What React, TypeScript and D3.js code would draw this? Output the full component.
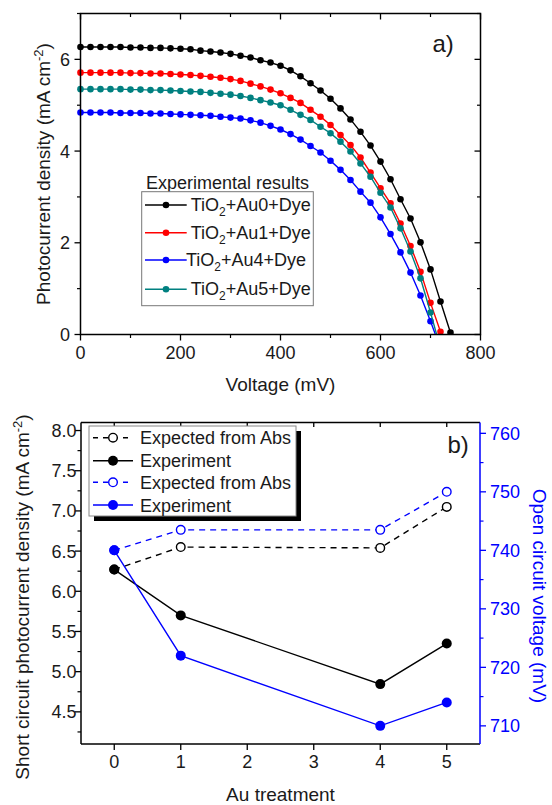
import React from 'react';
import * as d3 from 'd3';

// ---------- Panel a) data ----------
const voltageMV = [0, 20, 40, 60, 80, 100, 120, 140, 160, 180, 200, 220, 240, 260, 280, 300, 320, 340, 360, 380, 400, 420, 440, 460, 480, 500, 520, 540, 560, 580, 600, 620, 640, 660, 680, 700, 720, 740];

const jAu0 = [6.27, 6.27, 6.27, 6.27, 6.27, 6.26, 6.26, 6.25, 6.25, 6.24, 6.23, 6.22, 6.19, 6.17, 6.15, 6.12, 6.08, 6.04, 5.98, 5.93, 5.86, 5.76, 5.63, 5.48, 5.32, 5.14, 4.93, 4.69, 4.42, 4.12, 3.77, 3.385, 2.95, 2.53, 2.01, 1.42, 0.72, 0.04];
const jAu1 = [5.71, 5.71, 5.71, 5.71, 5.71, 5.70, 5.70, 5.69, 5.69, 5.68, 5.67, 5.66, 5.64, 5.62, 5.60, 5.57, 5.53, 5.47, 5.41, 5.34, 5.26, 5.16, 5.05, 4.90, 4.75, 4.57, 4.35, 4.13, 3.86, 3.53, 3.19, 2.86, 2.42, 1.93, 1.37, 0.69, 0.06];
const jAu4 = [4.84, 4.84, 4.84, 4.84, 4.83, 4.83, 4.83, 4.82, 4.82, 4.81, 4.80, 4.79, 4.78, 4.77, 4.75, 4.73, 4.71, 4.67, 4.62, 4.55, 4.47, 4.37, 4.25, 4.11, 3.97, 3.79, 3.59, 3.37, 3.115, 2.875, 2.555, 2.19, 1.79, 1.35, 0.85, 0.29, -0.3];
const jAu5 = [5.35, 5.35, 5.35, 5.35, 5.35, 5.34, 5.34, 5.33, 5.33, 5.32, 5.31, 5.30, 5.29, 5.27, 5.25, 5.23, 5.20, 5.16, 5.11, 5.06, 5.00, 4.90, 4.79, 4.68, 4.53, 4.39, 4.205, 3.99, 3.73, 3.44, 3.09, 2.77, 2.315, 1.81, 1.225, 0.48, -0.3];

const curveNames = ['Au0', 'Au1', 'Au4', 'Au5'];
const curveLegendPrefix = [' ', ' ', '', ' '];
const curveColors = ['#000000', '#ff0000', '#0000ff', '#008080'];
const curveValues = [jAu0, jAu1, jAu4, jAu5];

const topXMajor = [0, 200, 400, 600, 800];
const topXMinor = [100, 300, 500, 700];
const topYMajor = [0, 2, 4, 6];
const topYMinor = [1, 3, 5, 7];

// ---------- Panel b) data ----------
const auTreatment = [0, 1, 4, 5];
const jscExpected = [6.27, 6.55, 6.54, 7.05];
const jscExperiment = [6.27, 5.70, 4.845, 5.35];
const vocExpected = [740, 743.5, 743.5, 750];
const vocExperiment = [740, 722, 710, 714];

const botXTicks = [0, 1, 2, 3, 4, 5];
const botYMajor = [4.5, 5.0, 5.5, 6.0, 6.5, 7.0, 7.5, 8.0];
const botYMinor = [4.25, 4.75, 5.25, 5.75, 6.25, 6.75, 7.25, 7.75];
const rightMajor = [710, 720, 730, 740, 750, 760];
const rightMinor = [715, 725, 735, 745, 755];

const legendBLabels = ['Expected from Abs', 'Experiment', 'Expected from Abs', 'Experiment'];

const FONT = "'Liberation Sans', Arial, Helvetica, sans-serif";
const BLUE = '#0000ff';

export default function App() {
  // Panel a scales
  const ax = d3.scaleLinear().domain([0, 800]).range([80.5, 480.5]);
  const ay = d3.scaleLinear().domain([0, 7]).range([334.5, 13.5]);
  const aLine = d3.line<[number, number]>().x(d => ax(d[0])).y(d => ay(d[1]));

  // Panel b scales
  const bx = d3.scaleLinear().domain([-0.5, 5.5]).range([81, 480]);
  const by = d3.scaleLinear().domain([4.1, 8.1]).range([744, 422.5]);
  const byr = d3.scaleLinear().domain([706.9, 761.85]).range([744, 422.5]);
  const bLineL = d3.line<[number, number]>().x(d => bx(d[0])).y(d => by(d[1]));
  const bLineR = d3.line<[number, number]>().x(d => bx(d[0])).y(d => byr(d[1]));

  const [aL, aR] = ax.range();
  const [aB, aT] = ay.range();
  const [bL, bR] = bx.range();
  const [bB, bT] = by.range();

  const MAJ = 6;
  const MIN = 3.5;
  const axisW = 1.5;

  const legendRowsA = [205, 232.7, 260, 289.3];
  const legendRowsB = [437.7, 460.7, 482.3, 505];

  return (
    <svg width={552} height={805} style={{ position: 'absolute', left: 0, top: 0, background: '#fff' }} fontFamily={FONT}>
      <defs>
        <clipPath id="clipA">
          <rect x={0} y={0} width={552} height={aB} />
        </clipPath>
      </defs>
      <rect x={0} y={0} width={552} height={805} fill="#fff" />

      {/* ================= Panel a ================= */}
      <g clipPath="url(#clipA)">
        {curveValues.map((vals, ci) => {
          const pts: [number, number][] = vals.map((v, i) => [voltageMV[i], v]);
          return (
            <g key={ci}>
              <path d={aLine(pts) || ''} fill="none" stroke={curveColors[ci]} strokeWidth={1.4} />
              {pts.map((p, i) => (
                <circle key={i} cx={ax(p[0])} cy={ay(p[1])} r={3.3} fill={curveColors[ci]} />
              ))}
            </g>
          );
        })}
      </g>

      {/* frame */}
      <rect x={aL} y={aT} width={aR - aL} height={aB - aT} fill="none" stroke="#000" strokeWidth={axisW} />

      {/* x ticks */}
      {topXMajor.map(t => (
        <g key={'axm' + t}>
          <line x1={ax(t)} x2={ax(t)} y1={aB} y2={aB + MAJ} stroke="#000" strokeWidth={1.3} />
          <line x1={ax(t)} x2={ax(t)} y1={aT} y2={aT + MAJ} stroke="#000" strokeWidth={1.3} />
          <text x={ax(t)} y={359} fontSize={18} textAnchor="middle" fill="#1a1a1a">{t}</text>
        </g>
      ))}
      {topXMinor.map(t => (
        <g key={'axn' + t}>
          <line x1={ax(t)} x2={ax(t)} y1={aB} y2={aB + MIN} stroke="#000" strokeWidth={1.2} />
          <line x1={ax(t)} x2={ax(t)} y1={aT} y2={aT + MIN} stroke="#000" strokeWidth={1.2} />
        </g>
      ))}
      {/* y ticks */}
      {topYMajor.map(t => (
        <g key={'aym' + t}>
          <line x1={aL - MAJ} x2={aL} y1={ay(t)} y2={ay(t)} stroke="#000" strokeWidth={1.3} />
          <line x1={aR - MAJ} x2={aR} y1={ay(t)} y2={ay(t)} stroke="#000" strokeWidth={1.3} />
          <text x={70} y={ay(t) + 6.5} fontSize={18} textAnchor="end" fill="#1a1a1a">{t}</text>
        </g>
      ))}
      {topYMinor.map(t => (
        <g key={'ayn' + t}>
          <line x1={aL - MIN} x2={aL} y1={ay(t)} y2={ay(t)} stroke="#000" strokeWidth={1.2} />
          <line x1={aR - MIN} x2={aR} y1={ay(t)} y2={ay(t)} stroke="#000" strokeWidth={1.2} />
        </g>
      ))}

      {/* titles */}
      <text x={(aL + aR) / 2} y={391} fontSize={19} textAnchor="middle" fill="#1a1a1a">Voltage (mV)</text>
      <text transform={`translate(50,${(aT + aB) / 2}) rotate(-90)`} fontSize={19} textAnchor="middle" fill="#1a1a1a">
        Photocurrent density (mA cm<tspan dy={-7} fontSize={13}>-2</tspan><tspan dy={7}>)</tspan>
      </text>
      <text x={432.5} y={52} fontSize={24} fill="#1a1a1a">a)</text>

      {/* legend a */}
      <text x={227.5} y={189} fontSize={18} textAnchor="middle" fill="#1a1a1a">Experimental results</text>
      <rect x={141.7} y={191.7} width={171.6} height={114} fill="#fff" stroke="#777" strokeWidth={1} />
      {curveNames.map((n, i) => (
        <g key={'la' + i}>
          <line x1={145} x2={186.7} y1={legendRowsA[i]} y2={legendRowsA[i]} stroke={curveColors[i]} strokeWidth={1.4} />
          <circle cx={166} cy={legendRowsA[i]} r={3.3} fill={curveColors[i]} />
          <text x={186} y={legendRowsA[i] + 6} fontSize={18} fill="#1a1a1a" style={{ whiteSpace: 'pre' }}>
            {curveLegendPrefix[i]}TiO<tspan dy={5} fontSize={12}>2</tspan><tspan dy={-5}>{'+' + n + '+Dye'}</tspan>
          </text>
        </g>
      ))}

      {/* ================= Panel b ================= */}
      {/* expected (dashed, open) */}
      <path d={bLineL(auTreatment.map((x, i) => [x, jscExpected[i]] as [number, number])) || ''} fill="none" stroke="#000" strokeWidth={1.4} strokeDasharray="6,5" />
      <path d={bLineR(auTreatment.map((x, i) => [x, vocExpected[i]] as [number, number])) || ''} fill="none" stroke={BLUE} strokeWidth={1.4} strokeDasharray="6,5" />
      {auTreatment.map((x, i) => (
        <circle key={'je' + i} cx={bx(x)} cy={by(jscExpected[i])} r={4.3} fill="#fff" stroke="#000" strokeWidth={1.4} />
      ))}
      {auTreatment.map((x, i) => (
        <circle key={'ve' + i} cx={bx(x)} cy={byr(vocExpected[i])} r={4.3} fill="#fff" stroke={BLUE} strokeWidth={1.4} />
      ))}
      {/* experiment (solid, filled) */}
      <path d={bLineL(auTreatment.map((x, i) => [x, jscExperiment[i]] as [number, number])) || ''} fill="none" stroke="#000" strokeWidth={1.4} />
      <path d={bLineR(auTreatment.map((x, i) => [x, vocExperiment[i]] as [number, number])) || ''} fill="none" stroke={BLUE} strokeWidth={1.4} />
      {auTreatment.map((x, i) => (
        <circle key={'jx' + i} cx={bx(x)} cy={by(jscExperiment[i])} r={5} fill="#000" />
      ))}
      {auTreatment.map((x, i) => (
        <circle key={'vx' + i} cx={bx(x)} cy={byr(vocExperiment[i])} r={5} fill={BLUE} />
      ))}

      {/* frame: left, bottom, top black; right blue */}
      <line x1={bL} x2={bR} y1={bB} y2={bB} stroke="#000" strokeWidth={axisW} />
      <line x1={bL} x2={bR} y1={bT} y2={bT} stroke="#000" strokeWidth={axisW} />
      <line x1={bL} x2={bL} y1={bT} y2={bB} stroke="#000" strokeWidth={axisW} />
      <line x1={bR} x2={bR} y1={bT} y2={bB} stroke={BLUE} strokeWidth={axisW} />

      {botXTicks.map(t => (
        <g key={'bx' + t}>
          <line x1={bx(t)} x2={bx(t)} y1={bB} y2={bB + MAJ} stroke="#000" strokeWidth={1.3} />
          <line x1={bx(t)} x2={bx(t)} y1={bT} y2={bT + 4.5} stroke="#000" strokeWidth={1.3} />
          <text x={bx(t)} y={768} fontSize={18} textAnchor="middle" fill="#1a1a1a">{t}</text>
        </g>
      ))}
      {botYMajor.map(t => (
        <g key={'bym' + t}>
          <line x1={bL - MAJ} x2={bL} y1={by(t)} y2={by(t)} stroke="#000" strokeWidth={1.3} />
          <text x={76.5} y={by(t) + 6.5} fontSize={18} textAnchor="end" fill="#1a1a1a">{d3.format('.1f')(t)}</text>
        </g>
      ))}
      {botYMinor.map(t => (
        <line key={'byn' + t} x1={bL - MIN} x2={bL} y1={by(t)} y2={by(t)} stroke="#000" strokeWidth={1.2} />
      ))}
      {rightMajor.map(t => (
        <g key={'brm' + t}>
          <line x1={bR} x2={bR + MAJ} y1={byr(t)} y2={byr(t)} stroke={BLUE} strokeWidth={1.3} />
          <text x={490} y={byr(t) + 6.5} fontSize={18} textAnchor="start" fill={BLUE}>{t}</text>
        </g>
      ))}
      {rightMinor.map(t => (
        <line key={'brn' + t} x1={bR} x2={bR + MIN} y1={byr(t)} y2={byr(t)} stroke={BLUE} strokeWidth={1.2} />
      ))}

      {/* titles */}
      <text x={(bL + bR) / 2} y={801} fontSize={19} textAnchor="middle" fill="#1a1a1a">Au treatment</text>
      <text transform="translate(29,597) rotate(-90)" fontSize={19} textAnchor="middle" fill="#1a1a1a">
        Short circuit photocurrent density (mA cm<tspan dy={-7} fontSize={13}>-2</tspan><tspan dy={7}>)</tspan>
      </text>
      <text transform="translate(533,596) rotate(90)" fontSize={19} textAnchor="middle" fill={BLUE}>Open circuit voltage (mV)</text>
      <text x={447.5} y={453} fontSize={24} fill="#1a1a1a">b)</text>

      {/* legend b */}
      <rect x={94} y={431} width={207} height={90} fill="#000" />
      <rect x={89} y={426} width={207} height={90} fill="#fff" stroke="#888" strokeWidth={1} />
      {legendBLabels.map((lab, i) => {
        const color = i < 2 ? '#000' : BLUE;
        const dashed = i % 2 === 0;
        const yy = legendRowsB[i];
        return (
          <g key={'lb' + i}>
            <line x1={93} x2={133} y1={yy} y2={yy} stroke={color} strokeWidth={1.4} strokeDasharray={dashed ? '5,5' : undefined} />
            {dashed ? (
              <circle cx={113} cy={yy} r={4.3} fill="#fff" stroke={color} strokeWidth={1.4} />
            ) : (
              <circle cx={113} cy={yy} r={5} fill={color} />
            )}
            <text x={140} y={yy + 6.5} fontSize={18} fill="#1a1a1a">{lab}</text>
          </g>
        );
      })}
    </svg>
  );
}
